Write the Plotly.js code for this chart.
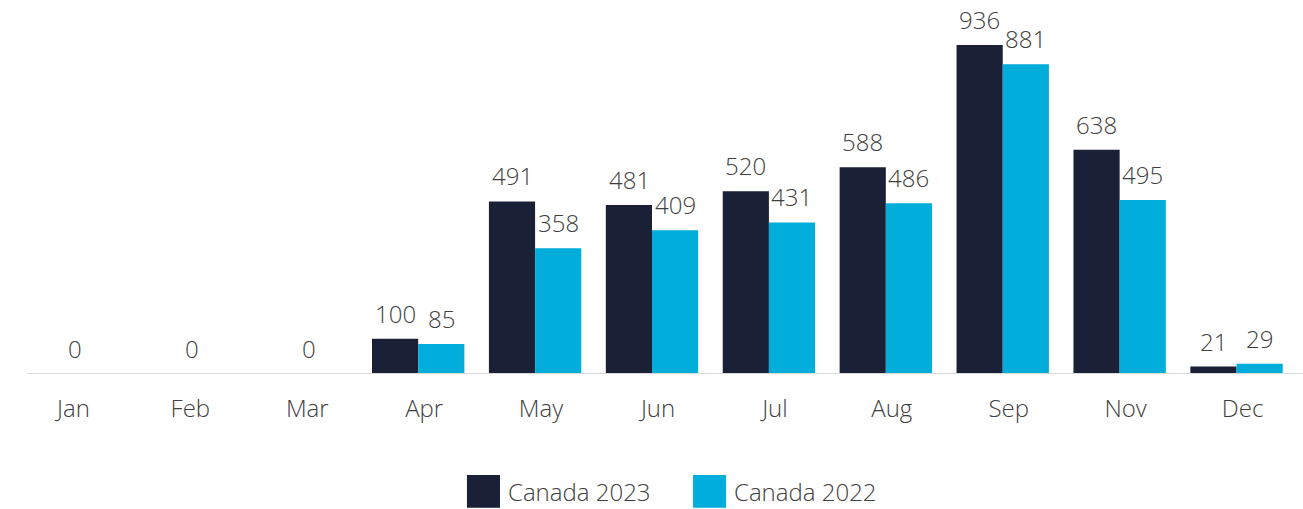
<!DOCTYPE html>
<html>
<head>
<meta charset="utf-8">
<script src="https://cdn.plot.ly/plotly-3.0.1.min.js"></script>
<style>html,body{margin:0;padding:0;background:#fff;}#chart{width:1303px;height:509px;}</style>
</head>
<body>
<div id="chart"></div>
<script>
const months = ["Jan","Feb","Mar","Apr","May","Jun","Jul","Aug","Sep","Nov","Dec"];
const canada2023 = [0, 0, 0, 100, 491, 481, 520, 588, 936, 638, 21];
const canada2022 = [null, null, null, 85, 358, 409, 431, 486, 881, 495, 29];
const seriesNames = ["Canada 2023", "Canada 2022"];
const seriesColors = ["#1A2035", "#00ADDB"];

const FONT = "Open Sans, sans-serif";
const TXT = "#404040";
const FS = 24;

const traces = [canada2023, canada2022].map((vals, i) => ({
  type: "bar",
  name: seriesNames[i],
  x: months,
  y: vals,
  marker: {color: seriesColors[i]},
  hoverinfo: "x+y+name",
  showlegend: false
}));

const annotations = [];
const halfBar = 23;
const lblFont = {family: FONT, size: FS, color: TXT, weight: 300};
months.forEach((m, j) => {
  const a = canada2023[j], b = canada2022[j];
  if (b === null) {
    annotations.push({x: m, y: a, xref: "x", yref: "y", text: String(a), showarrow: false,
      xshift: 8, yanchor: "bottom", yshift: 7, font: lblFont});
  } else {
    annotations.push({x: m, y: a, xref: "x", yref: "y", text: String(a), showarrow: false,
      xshift: -halfBar, yanchor: "bottom", yshift: 7, font: lblFont});
    annotations.push({x: m, y: b, xref: "x", yref: "y", text: String(b), showarrow: false,
      xshift: halfBar, yanchor: "bottom", yshift: 7, font: lblFont});
  }
});

// custom legend (large swatches)
const legendX = [0.3561, 0.5319];
const shapes = [
  {type: "line", xref: "paper", yref: "y", x0: 0.014, x1: 1.0062, y0: 0, y1: 0,
   line: {color: "#D9D9D9", width: 2}, layer: "above"}
];
seriesNames.forEach((n, i) => {
  shapes.push({type: "rect", xref: "paper", yref: "paper",
    x0: legendX[i], x1: legendX[i] + 0.0257, y0: -0.285, y1: -0.378,
    fillcolor: seriesColors[i], line: {width: 0}});
  annotations.push({xref: "paper", yref: "paper", x: legendX[i] + 0.0302, y: -0.3315,
    xanchor: "left", yanchor: "middle", text: n, showarrow: false, font: lblFont});
});

const layout = {
  width: 1303, height: 509,
  margin: {l: 9, r: 8, t: 20, b: 135},
  paper_bgcolor: "#fff", plot_bgcolor: "#fff",
  barmode: "group", bargap: 0.21, bargroupgap: 0,
  showlegend: false,
  font: {family: FONT, size: FS, color: TXT, weight: 300},
  xaxis: {type: "category", showline: false, showgrid: false, zeroline: false,
    ticks: "", ticklabelstandoff: 18, ticklabelshift: 6, tickfont: lblFont},
  yaxis: {range: [0, 1007], visible: false, showgrid: false, zeroline: false},
  shapes: shapes,
  annotations: annotations
};

Plotly.newPlot("chart", traces, layout, {displayModeBar: false, staticPlot: true});
</script>
</body>
</html>
